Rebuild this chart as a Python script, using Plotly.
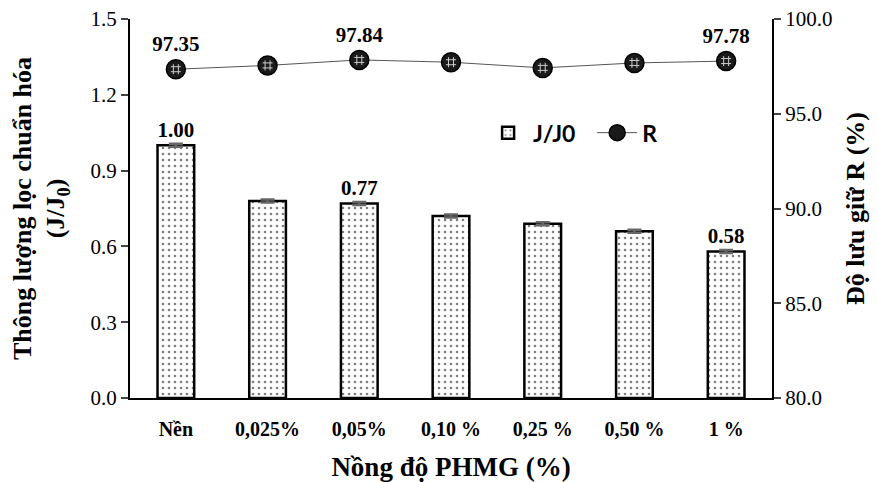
import plotly.graph_objects as go

categories = ["Nền", "0,025%", "0,05%", "0,10 %", "0,25 %", "0,50 %", "1 %"]
flux = [1.00, 0.78, 0.77, 0.72, 0.69, 0.66, 0.58]
flux_err = [0.006, 0.006, 0.006, 0.006, 0.006, 0.006, 0.006]
flux_labels = ["1.00", "", "0.77", "", "", "", "0.58"]
retention = [97.35, 97.55, 97.84, 97.72, 97.42, 97.68, 97.78]
ret_labels = ["97.35", "", "97.84", "", "", "", "97.78"]
y1_ticks = [0.0, 0.3, 0.6, 0.9, 1.2, 1.5]
y2_ticks = [80.0, 85.0, 90.0, 95.0, 100.0]

serif = "Liberation Serif"
fig = go.Figure()
fig.add_trace(go.Bar(
    x=categories, y=flux, name="<b>J/J0</b>  ", width=0.4,
    marker=dict(color="white", line=dict(color="black", width=2.5),
                pattern=dict(shape=".", fgcolor="black", bgcolor="white", size=6, solidity=0.15)),
    error_y=dict(type="data", array=flux_err, color="#666", thickness=2.5, width=7),
    text=flux_labels, texttemplate="<b>%{text}</b>", textposition="outside", cliponaxis=False,
    textfont=dict(family=serif, size=21, color="black"),
))
fig.add_trace(go.Scatter(
    x=categories, y=retention, name="<b>R</b>", yaxis="y2", mode="lines+markers+text",
    legendgroup="r",
    line=dict(color="#555", width=1),
    marker=dict(symbol="circle", size=19, color="#1a1a1a", line=dict(color="black", width=1.5)),
    text=ret_labels, texttemplate="<b>%{text}</b>", textposition="top center", cliponaxis=False,
    textfont=dict(family=serif, size=21, color="black"),
))
fig.add_trace(go.Scatter(
    x=categories, y=retention, yaxis="y2", mode="markers", showlegend=False,
    legendgroup="r", hoverinfo="skip",
    marker=dict(symbol="hash-open", size=10, color="#cccccc", line=dict(color="#cccccc", width=1)),
))
fig.update_layout(
    width=877, height=482,
    margin=dict(l=130, r=105, t=19, b=84),
    plot_bgcolor="white", paper_bgcolor="white",
    font=dict(family=serif, size=21, color="black"),
    showlegend=True,
    legend=dict(orientation="h", x=0.55, y=0.70, xanchor="left", yanchor="middle",
                font=dict(family="Lato", size=23, color="black"),
                bgcolor="rgba(0,0,0,0)", itemwidth=40),
    xaxis=dict(showline=True, linecolor="black", linewidth=2, ticks="", automargin=False,
               ticklabelstandoff=12,
               tickprefix="<b>", ticksuffix="</b>",
               tickfont=dict(family=serif, size=20),
               title=dict(text="<b>Nồng độ PHMG (%)</b>", font=dict(family=serif, size=27), standoff=18)),
    yaxis=dict(range=[0, 1.5], tickvals=y1_ticks, tickformat=".1f", showgrid=False, zeroline=False,
               automargin=False,
               showline=True, linecolor="black", linewidth=2, ticks="outside", ticklen=7,
               tickwidth=2, tickprefix="<b>", ticksuffix="</b>", tickfont=dict(family=serif, size=21),
               title=dict(text="<b>Thông lượng lọc chuẩn hóa<br>(J/J<sub>0</sub>)</b>",
                          font=dict(family=serif, size=26), standoff=18)),
    yaxis2=dict(range=[80, 100], tickvals=y2_ticks, tickformat=".1f", overlaying="y", side="right",
                automargin=False,
                showgrid=False, zeroline=False, showline=True, linecolor="black", linewidth=2,
                ticks="outside", ticklen=7, tickwidth=2, tickprefix="<b>", ticksuffix="</b>",
                tickfont=dict(family=serif, size=21),
                title=dict(text="<b>Độ lưu giữ R (%)</b>", font=dict(family=serif, size=26), standoff=14)),
)
fig.write_html("out.html")
